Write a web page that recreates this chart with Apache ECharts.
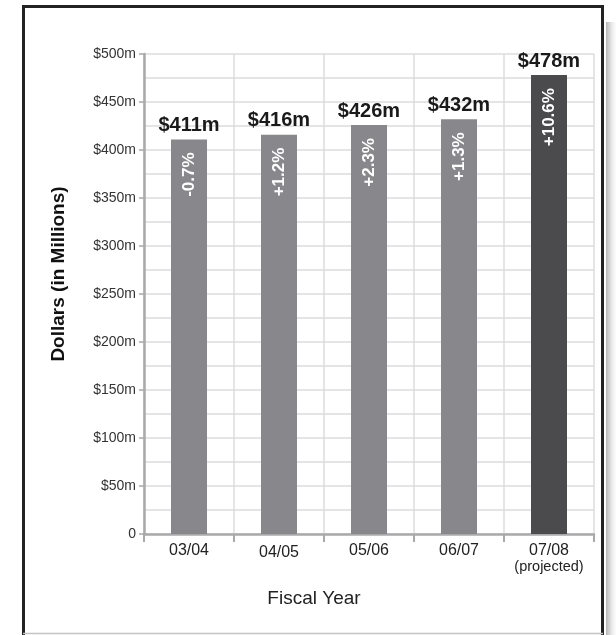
<!DOCTYPE html>
<html>
<head>
<meta charset="utf-8">
<script src="https://cdn.jsdelivr.net/npm/echarts@6/dist/echarts.min.js"></script>
<style>
  html, body { margin: 0; padding: 0; background: #fff; }
  #chart { width: 616px; height: 635px; }
</style>
</head>
<body>
<div id="chart"></div>
<script>
// Fiscal years and budget totals (millions of dollars)
const fiscalYears = ['03/04', '04/05', '05/06', '06/07', '07/08'];
const yearNotes = ['', '', '', '', '(projected)'];
const totals = [411, 416, 426, 432, 478];
const changes = ['-0.7%', '+1.2%', '+2.3%', '+1.3%', '+10.6%'];
const projectedIndex = 4;

const FONT = '"Liberation Sans", Arial, Helvetica, sans-serif';
const GRID_COLOR = '#dcdcdc';
const AXIS_COLOR = '#a9a9ab';

const chart = echarts.init(document.getElementById('chart'), null, { renderer: 'canvas' });

const barData = totals.map((v, i) => ({
  value: v,
  itemStyle: { color: i === projectedIndex ? '#4b4b4d' : '#88888c' }
}));

chart.setOption({
  animation: false,
  textStyle: { fontFamily: FONT },
  grid: { left: 144, right: 22, top: 54, bottom: 101, containLabel: false },
  xAxis: {
    type: 'category',
    data: fiscalYears,
    name: 'Fiscal Year',
    nameLocation: 'middle',
    nameGap: 55,
    nameTextStyle: { fontSize: 19, color: '#222', fontFamily: FONT, padding: [0, 110, 0, 0] },
    axisLine: { show: true, lineStyle: { color: AXIS_COLOR, width: 2.5 } },
    axisTick: { show: true, interval: 0, length: 8, lineStyle: { color: AXIS_COLOR, width: 2 } },
    splitLine: { show: true, interval: 0, lineStyle: { color: GRID_COLOR, width: 1.5 } },
    axisLabel: {
      interval: 0,
      margin: 8,
      color: '#222',
      fontFamily: FONT,
      formatter: (val, idx) => {
        const note = yearNotes[idx];
        if (note) return '{y|' + val + '}\n{n|' + note + '}';
        return idx === 1 ? '{low|' + val + '}' : '{y|' + val + '}';
      },
      rich: {
        y: { fontSize: 16, color: '#222', fontFamily: FONT, lineHeight: 17 },
        low: { fontSize: 16, color: '#222', fontFamily: FONT, lineHeight: 17, padding: [4, 0, 0, 0] },
        n: { fontSize: 14.5, color: '#222', fontFamily: FONT, lineHeight: 15 }
      }
    }
  },
  yAxis: {
    type: 'value',
    min: 0,
    max: 500,
    interval: 50,
    name: 'Dollars (in Millions)',
    nameLocation: 'middle',
    nameGap: 76,
    nameTextStyle: { fontSize: 19, fontWeight: 'bold', color: '#111', fontFamily: FONT, padding: [0, 0, 0, 40] },
    axisLine: { show: true, lineStyle: { color: AXIS_COLOR, width: 2.5 } },
    axisTick: { show: true, length: 5, lineStyle: { color: AXIS_COLOR, width: 1.5 } },
    minorTick: { show: false, splitNumber: 2 },
    splitLine: { show: true, lineStyle: { color: GRID_COLOR, width: 1.5 } },
    minorSplitLine: { show: true, lineStyle: { color: GRID_COLOR, width: 1.5 } },
    axisLabel: {
      margin: 8,
      fontSize: 14,
      color: '#333',
      fontFamily: FONT,
      formatter: v => (v === 0 ? '0' : '$' + v + 'm')
    }
  },
  series: [
    {
      name: 'Total',
      type: 'bar',
      barWidth: 36,
      data: barData,
      label: {
        show: true,
        position: 'top',
        distance: 4,
        fontSize: 20,
        fontWeight: 'bold',
        color: '#1a1a1a',
        fontFamily: FONT,
        formatter: p => '$' + p.value + 'm'
      }
    },
    {
      name: 'Change',
      type: 'bar',
      barWidth: 36,
      barGap: '-100%',
      silent: true,
      data: totals,
      itemStyle: { color: 'rgba(0,0,0,0)' },
      label: {
        show: true,
        position: 'insideTop',
        rotate: 90,
        align: 'right',
        verticalAlign: 'middle',
        distance: 13,
        fontSize: 17,
        fontWeight: 'bold',
        color: '#ffffff',
        fontFamily: FONT,
        formatter: p => changes[p.dataIndex]
      }
    }
  ],
  graphic: [
    {
      type: 'rect',
      silent: true,
      z: -1,
      shape: { x: 606, y: 22, width: 10, height: 620 },
      style: {
        fill: new echarts.graphic.LinearGradient(0, 0, 1, 0, [
          { offset: 0, color: 'rgba(120,120,120,0.55)' },
          { offset: 1, color: 'rgba(200,200,200,0.05)' }
        ])
      }
    },
    {
      type: 'rect',
      silent: true,
      z: 10,
      shape: { x: 23.5, y: 6.5, width: 579, height: 640 },
      style: { fill: 'none', stroke: '#232323', lineWidth: 3 }
    },
    {
      type: 'line',
      silent: true,
      z: 10,
      shape: { x1: 23, y1: 633.5, x2: 603, y2: 633.5 },
      style: { stroke: '#c4c4c4', lineWidth: 1.5 }
    }
  ]
});
</script>
</body>
</html>
